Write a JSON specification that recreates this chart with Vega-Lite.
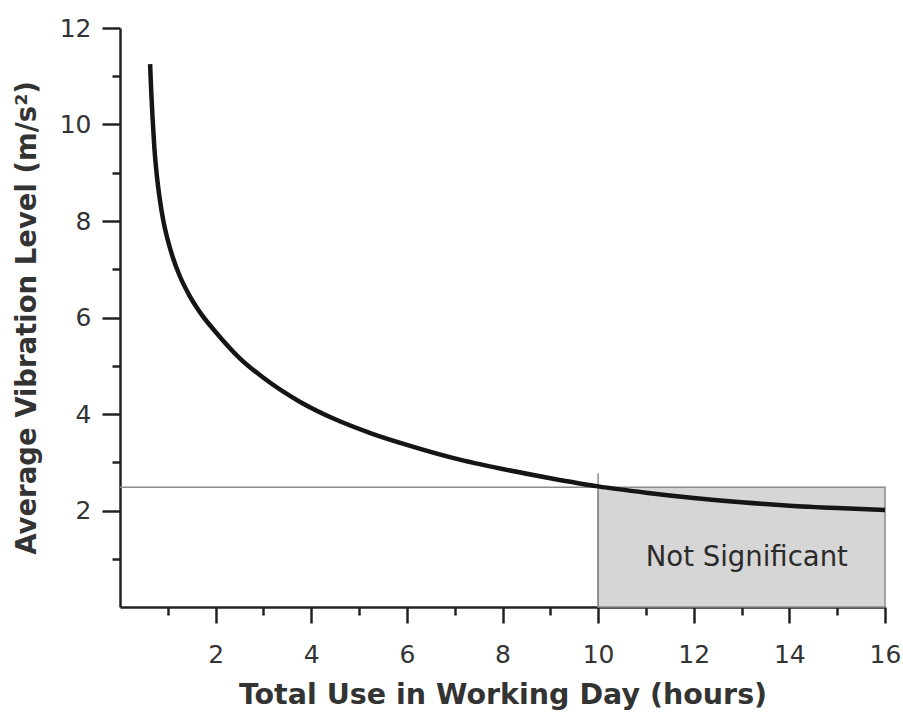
{
  "$schema": "https://vega.github.io/schema/vega-lite/v6.json",
  "autosize": "none",
  "width": 765,
  "height": 579,
  "padding": {"left": 120, "top": 28, "right": 18, "bottom": 110},
  "background": "white",
  "config": {"view": {"stroke": null}},
  "resolve": {"axis": {"x": "independent", "y": "independent"}},
  "datasets": {
    "curve": [
      {"x": 0.63, "y": 11.25}, {"x": 0.65, "y": 10.75}, {"x": 0.68, "y": 10.15}, {"x": 0.72, "y": 9.5},
      {"x": 0.77, "y": 8.95}, {"x": 0.83, "y": 8.47}, {"x": 0.9, "y": 8.04}, {"x": 1.0, "y": 7.6},
      {"x": 1.1, "y": 7.26}, {"x": 1.25, "y": 6.86}, {"x": 1.45, "y": 6.46}, {"x": 1.7, "y": 6.07},
      {"x": 2.0, "y": 5.7}, {"x": 2.5, "y": 5.16}, {"x": 3.0, "y": 4.75}, {"x": 3.75, "y": 4.26},
      {"x": 4.5, "y": 3.89}, {"x": 5.25, "y": 3.6}, {"x": 6.0, "y": 3.36}, {"x": 7.0, "y": 3.08},
      {"x": 8.0, "y": 2.86}, {"x": 9.0, "y": 2.67}, {"x": 10.0, "y": 2.5}, {"x": 11.0, "y": 2.37},
      {"x": 12.0, "y": 2.26}, {"x": 13.0, "y": 2.17}, {"x": 14.0, "y": 2.1}, {"x": 15.0, "y": 2.05},
      {"x": 16.0, "y": 2.01}
    ]
  },
  "encoding": {
    "x": {"field": "x", "type": "quantitative", "scale": {"domain": [0, 16], "nice": false, "zero": true}, "axis": null},
    "y": {"field": "y", "type": "quantitative", "scale": {"domain": [0, 12], "nice": false, "zero": true}, "axis": null}
  },
  "layer": [
    {
      "data": {"values": [{"x": 10, "x2": 16, "y": 0, "y2": 2.48}]},
      "mark": {"type": "rect", "fill": "#d6d6d6", "stroke": "#8a8a8a", "strokeWidth": 1.5},
      "encoding": {
        "x": {
          "field": "x", "type": "quantitative",
          "scale": {"domain": [0, 16], "nice": false, "zero": true},
          "axis": {
            "orient": "bottom",
            "title": "Total Use in Working Day (hours)",
            "values": [2, 4, 6, 8, 10, 12, 14, 16],
            "tickSize": 16, "tickWidth": 2.5, "tickColor": "#222",
            "domainColor": "#222", "domainWidth": 2.5,
            "labelFont": "DejaVu Sans", "labelFontSize": 25, "labelColor": "#333",
            "labelPadding": 19, "labelFlush": false, "labelOverlap": false,
            "titleFont": "DejaVu Sans", "titleFontWeight": "bold", "titleFontSize": 28.5, "titleColor": "#333",
            "titlePadding": 13, "grid": false
          }
        },
        "y": {
          "field": "y", "type": "quantitative",
          "scale": {"domain": [0, 12], "nice": false, "zero": true},
          "axis": {
            "orient": "left",
            "title": "Average Vibration Level (m/s²)",
            "values": [2, 4, 6, 8, 10, 12],
            "tickSize": 18, "tickWidth": 2.5, "tickColor": "#222",
            "domainColor": "#222", "domainWidth": 2.5,
            "labelFont": "DejaVu Sans", "labelFontSize": 25, "labelColor": "#333",
            "labelPadding": 11, "labelFlush": false, "labelOverlap": false,
            "titleFont": "DejaVu Sans", "titleFontWeight": "bold", "titleFontSize": 27.5, "titleColor": "#333",
            "titlePadding": 18, "grid": false
          }
        },
        "x2": {"field": "x2"}, "y2": {"field": "y2"}
      }
    },
    {
      "data": {"values": [{"x": 0, "x2": 10, "y": 2.48}]},
      "mark": {"type": "rule", "stroke": "#8a8a8a", "strokeWidth": 1.5},
      "encoding": {"x2": {"field": "x2"}}
    },
    {
      "data": {"values": [{"x": 10, "y": 0, "y2": 2.77}]},
      "mark": {"type": "rule", "stroke": "#8a8a8a", "strokeWidth": 1.5},
      "encoding": {"y2": {"field": "y2"}}
    },
    {
      "data": {"name": "curve"},
      "mark": {"type": "line", "color": "#151515", "strokeWidth": 4.5, "interpolate": "monotone"},
      "encoding": {
        "x": {
          "field": "x", "type": "quantitative",
          "scale": {"domain": [0, 16], "nice": false, "zero": true},
          "axis": {
            "orient": "bottom", "title": null,
            "values": [1, 3, 5, 7, 9, 11, 13, 15],
            "labels": false, "domain": false,
            "tickSize": 8, "tickWidth": 2.5, "tickColor": "#222", "grid": false
          }
        },
        "y": {
          "field": "y", "type": "quantitative",
          "scale": {"domain": [0, 12], "nice": false, "zero": true},
          "axis": {
            "orient": "left", "title": null,
            "values": [1, 3, 5, 7, 9, 11],
            "labels": false, "domain": false,
            "tickSize": 8, "tickWidth": 2.5, "tickColor": "#222", "grid": false
          }
        }
      }
    },
    {
      "data": {"values": [{"x": 13.11, "y": 1.02, "label": "Not Significant"}]},
      "mark": {"type": "text", "font": "DejaVu Sans", "fontSize": 27.5, "color": "#2b2b2b", "align": "center", "baseline": "middle"},
      "encoding": {"text": {"field": "label"}}
    }
  ]
}
